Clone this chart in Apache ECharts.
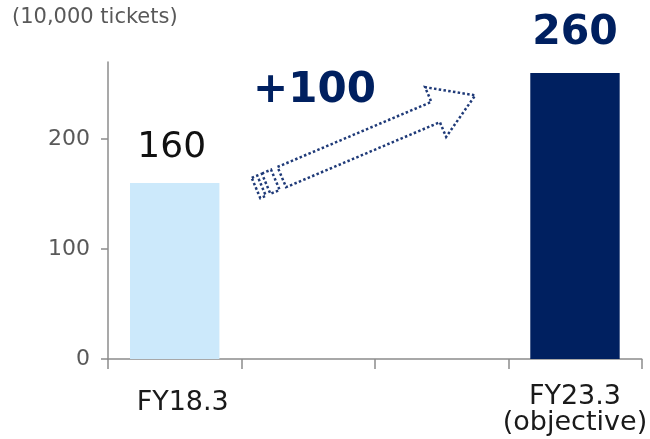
<!DOCTYPE html>
<html>
<head>
<meta charset="utf-8">
<script src="https://cdn.jsdelivr.net/npm/echarts@6/dist/echarts.min.js"></script>
<style>
  html, body { margin: 0; padding: 0; background: #fff; }
  #chart { width: 650px; height: 439px; }
</style>
</head>
<body>
<div id="chart"></div>
<script>
// Ticket volume, actual vs. target (unit: 10,000 tickets)
const categories = ['FY18.3', '', '', 'FY23.3\n(objective)'];
const tickets = [160, null, null, 260];
const yTickValues = [0, 100, 200];
const unitLabel = '(10,000 tickets)';

const FONT = '"DejaVu Sans", Verdana, sans-serif';
const NAVY = '#002060';
const LIGHT = '#CCE9FB';

const growth = tickets[3] - tickets[0];

const chart = echarts.init(document.getElementById('chart'), null, { renderer: 'canvas' });

// Single-line category labels sit a little lower (and slightly right) of the two-line one
const categoryData = categories.map(function (name) {
  return name.indexOf('\n') < 0
    ? { value: name, textStyle: { padding: [6, 0, 0, 16] } }
    : { value: name };
});

// Striped arrow shape, built pointing right from the tail centre, then rotated
const shaftHalf = 11, headHalf = 27, headStart = 195, tipX = 238;
const dotted = { stroke: '#1F3A78', fill: 'rgba(0,0,0,0)', lineWidth: 2.5, lineDash: [2.5, 2.3] };
function rect(x0, x1) {
  return [[x0, -shaftHalf], [x1, -shaftHalf], [x1, shaftHalf], [x0, shaftHalf]];
}
const arrowBody = [
  [28, -shaftHalf], [headStart, -shaftHalf], [headStart, -headHalf], [tipX, 0],
  [headStart, headHalf], [headStart, shaftHalf], [28, shaftHalf]
];

chart.setOption({
  animation: false,
  grid: { left: 108, right: 7, top: 62, bottom: 80, containLabel: false },
  xAxis: {
    type: 'category',
    data: categoryData,
    boundaryGap: true,
    axisLine: { lineStyle: { color: '#8C8C8C', width: 1.5 } },
    axisTick: { show: true, length: 10, alignWithLabel: false, lineStyle: { color: '#8C8C8C', width: 1.5 } },
    axisLabel: {
      color: '#1a1a1a', fontFamily: FONT, fontSize: 27, lineHeight: 26,
      margin: 25, verticalAlign: 'top', interval: 0
    }
  },
  yAxis: {
    type: 'value',
    min: 0, max: 270, interval: 100,
    splitLine: { show: false },
    axisLine: { show: true, lineStyle: { color: '#8C8C8C', width: 1.5 } },
    axisTick: { show: true, length: 7, customValues: yTickValues, lineStyle: { color: '#8C8C8C', width: 1.5 } },
    axisLabel: {
      color: '#595959', fontFamily: FONT, fontSize: 22, margin: 18,
      customValues: yTickValues
    }
  },
  graphic: [
    {
      type: 'text', left: 12, top: 7,
      style: { text: unitLabel, fill: '#595959', font: '21px ' + FONT }
    },
    {
      type: 'text', left: 253, top: 70,
      style: { text: '+' + growth, fill: NAVY, font: 'bold 42px ' + FONT }
    },
    {
      type: 'group', x: 256, y: 188, rotation: 0.40,
      children: [
        { type: 'polygon', shape: { points: rect(0, 6) }, style: dotted },
        { type: 'polygon', shape: { points: rect(11, 21) }, style: dotted },
        { type: 'polygon', shape: { points: arrowBody }, style: dotted }
      ]
    }
  ],
  series: [{
    type: 'bar',
    barWidth: '67%',
    data: [
      {
        value: tickets[0],
        itemStyle: { color: LIGHT },
        label: { show: true, position: 'top', distance: 17, offset: [-3, 0], color: '#111', fontFamily: FONT, fontSize: 36 }
      },
      tickets[1],
      tickets[2],
      {
        value: tickets[3],
        itemStyle: { color: NAVY },
        label: { show: true, position: 'top', distance: 19, color: NAVY, fontFamily: FONT, fontSize: 41, fontWeight: 'bold' }
      }
    ]
  }]
});
</script>
</body>
</html>
